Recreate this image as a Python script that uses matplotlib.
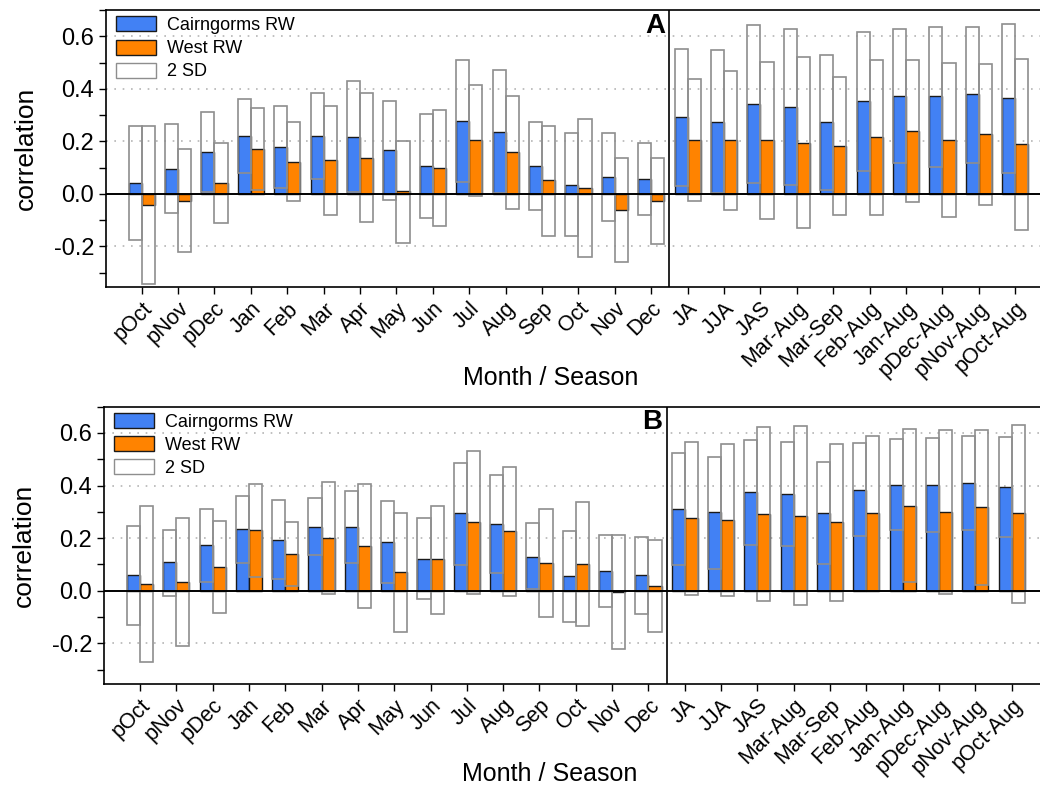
import numpy as np
import matplotlib
matplotlib.use("Agg")
import matplotlib.pyplot as plt
from matplotlib.patches import Patch
from matplotlib.ticker import MultipleLocator

plt.rcParams['font.family'] = ['Liberation Sans', 'DejaVu Sans']

# categories: 15 months + 10 seasons
labels = ['pOct', 'pNov', 'pDec', 'Jan', 'Feb', 'Mar', 'Apr', 'May', 'Jun', 'Jul',
          'Aug', 'Sep', 'Oct', 'Nov', 'Dec', 'JA', 'JJA', 'JAS', 'Mar-Aug', 'Mar-Sep',
          'Feb-Aug', 'Jan-Aug', 'pDec-Aug', 'pNov-Aug', 'pOct-Aug']

# --- panel A ---
a_cairn = [0.042, 0.095, 0.161, 0.220, 0.180, 0.220, 0.218, 0.166, 0.105, 0.278,
           0.236, 0.105, 0.034, 0.065, 0.057, 0.291, 0.275, 0.341, 0.332, 0.272,
           0.352, 0.372, 0.371, 0.379, 0.363]
a_cairn_hi = [0.260, 0.265, 0.313, 0.360, 0.336, 0.382, 0.430, 0.353, 0.303, 0.509,
              0.470, 0.272, 0.230, 0.232, 0.194, 0.551, 0.547, 0.641, 0.628, 0.528,
              0.615, 0.627, 0.637, 0.637, 0.646]
a_cairn_lo = [-0.175, -0.074, 0.006, 0.080, 0.023, 0.056, 0.006, -0.024, -0.093, 0.046,
              0.003, -0.062, -0.161, -0.102, -0.081, 0.029, 0.003, 0.042, 0.034, 0.016,
              0.086, 0.117, 0.103, 0.117, 0.079]
a_west = [-0.043, -0.027, 0.041, 0.170, 0.121, 0.128, 0.137, 0.009, 0.100, 0.204,
          0.159, 0.051, 0.022, -0.062, -0.027, 0.206, 0.206, 0.203, 0.195, 0.183,
          0.216, 0.239, 0.206, 0.227, 0.189]
a_west_hi = [0.258, 0.170, 0.192, 0.326, 0.272, 0.334, 0.382, 0.202, 0.321, 0.416,
             0.374, 0.258, 0.286, 0.135, 0.135, 0.438, 0.468, 0.501, 0.520, 0.444,
             0.509, 0.508, 0.500, 0.495, 0.513]
a_west_lo = [-0.344, -0.222, -0.112, 0.016, -0.029, -0.079, -0.107, -0.188, -0.123, -0.010,
             -0.058, -0.159, -0.241, -0.261, -0.192, -0.027, -0.060, -0.095, -0.131, -0.080,
             -0.081, -0.032, -0.090, -0.043, -0.137]

# --- panel B ---
b_cairn = [0.060, 0.109, 0.173, 0.233, 0.193, 0.243, 0.243, 0.186, 0.122, 0.294,
           0.254, 0.129, 0.055, 0.074, 0.060, 0.310, 0.298, 0.375, 0.366, 0.296,
           0.383, 0.403, 0.402, 0.410, 0.396]
b_cairn_hi = [0.247, 0.232, 0.312, 0.360, 0.345, 0.351, 0.380, 0.342, 0.276, 0.487,
              0.441, 0.257, 0.226, 0.212, 0.205, 0.522, 0.510, 0.575, 0.564, 0.491,
              0.560, 0.576, 0.580, 0.589, 0.585]
b_cairn_lo = [-0.132, -0.020, 0.033, 0.104, 0.043, 0.136, 0.106, 0.031, -0.031, 0.099,
              0.067, 0.005, -0.120, -0.064, -0.089, 0.099, 0.084, 0.173, 0.170, 0.102,
              0.209, 0.232, 0.223, 0.232, 0.206]
b_west = [0.027, 0.033, 0.090, 0.232, 0.139, 0.200, 0.170, 0.071, 0.120, 0.261,
          0.226, 0.106, 0.100, -0.006, 0.017, 0.277, 0.268, 0.291, 0.286, 0.261,
          0.294, 0.324, 0.300, 0.318, 0.294]
b_west_hi = [0.321, 0.276, 0.266, 0.407, 0.262, 0.412, 0.405, 0.295, 0.324, 0.533,
             0.469, 0.312, 0.337, 0.210, 0.193, 0.566, 0.557, 0.622, 0.625, 0.559,
             0.588, 0.615, 0.613, 0.612, 0.632]
b_west_lo = [-0.271, -0.211, -0.084, 0.053, 0.017, -0.014, -0.065, -0.156, -0.087, -0.011,
             -0.020, -0.100, -0.136, -0.223, -0.158, -0.015, -0.022, -0.041, -0.053, -0.039,
             0.000, 0.034, -0.011, 0.022, -0.045]

BLUE = '#4281f4'
ORANGE = '#ff8300'
SD_EDGE = '#8e8e8e'


def draw_panel(ax, cairn, c_lo, c_hi, west, w_lo, w_hi, letter, xlim, xlab_y):
    x = np.arange(len(labels))
    w = 0.36
    # correlation bars
    ax.bar(x - w / 2, cairn, w, color=BLUE, edgecolor='#1a1a1a', linewidth=1.0, zorder=2)
    ax.bar(x + w / 2, west, w, color=ORANGE, edgecolor='#1a1a1a', linewidth=1.0, zorder=2)
    # 2 SD envelopes: open boxes drawn on top
    ax.bar(x - w / 2, np.array(c_hi) - np.array(c_lo), w, bottom=c_lo, fill=False,
           edgecolor=SD_EDGE, linewidth=1.2, zorder=3)
    ax.bar(x + w / 2, np.array(w_hi) - np.array(w_lo), w, bottom=w_lo, fill=False,
           edgecolor=SD_EDGE, linewidth=1.2, zorder=3)

    ax.axhline(0, color='black', linewidth=1.4, zorder=4)
    ax.axvline(14.5, color='black', linewidth=1.2, zorder=4)
    for yv in [-0.2, 0.2, 0.4, 0.6]:
        ax.axhline(yv, color='#b5b5b5', linestyle=(0, (1, 4)), linewidth=1.2, zorder=1)

    ax.set_xlim(*xlim)
    ax.set_ylim(-0.355, 0.70)
    ax.set_yticks([-0.2, 0.0, 0.2, 0.4, 0.6])
    ax.set_yticklabels(['-0.2', '0.0', '0.2', '0.4', '0.6'], fontsize=17)
    ax.yaxis.set_minor_locator(MultipleLocator(0.1))
    ax.tick_params(axis='y', which='both', length=5, width=1, direction='out')
    ax.set_xticks(x)
    ax.set_xticklabels(labels, rotation=45, ha='right', rotation_mode='anchor', fontsize=15.5)
    ax.tick_params(axis='x', length=5, width=1, direction='out', pad=3)
    ax.spines['right'].set_visible(False)
    for s in ['left', 'top', 'bottom']:
        ax.spines[s].set_linewidth(1.2)

    ax.set_ylabel('correlation', fontsize=19)
    ax.yaxis.set_label_coords(-0.073, 0.5)
    ax.set_xlabel('Month / Season', fontsize=18)
    ax.xaxis.set_label_coords(0.476, xlab_y)

    ax.text(14.38, 0.64, letter, fontsize=20, fontweight='bold', ha='right', va='center')

    handles = [Patch(facecolor=BLUE, edgecolor='#1a1a1a', label='Cairngorms RW'),
               Patch(facecolor=ORANGE, edgecolor='#1a1a1a', label='West RW'),
               Patch(facecolor='white', edgecolor=SD_EDGE, label='2 SD')]
    ax.legend(handles=handles, loc='upper left', bbox_to_anchor=(0.007, 0.99),
              frameon=False, fontsize=13, handlelength=2.2, handleheight=0.9,
              labelspacing=0.3, borderaxespad=0.0, borderpad=0.2, handletextpad=0.6)


fig = plt.figure(figsize=(10.4, 7.88), dpi=100)
ax1 = fig.add_axes([0.1019, 0.6358, 0.8981, 0.3515])
ax2 = fig.add_axes([0.1000, 0.1320, 0.9000, 0.3519])

draw_panel(ax1, a_cairn, a_cairn_lo, a_cairn_hi, a_west, a_west_lo, a_west_hi, 'A',
           (-0.98, 24.68), -0.285)
draw_panel(ax2, b_cairn, b_cairn_lo, b_cairn_hi, b_west, b_west_lo, b_west_hi, 'B',
           (-0.99, 24.78), -0.28)

fig.savefig('out.png', dpi=100)
